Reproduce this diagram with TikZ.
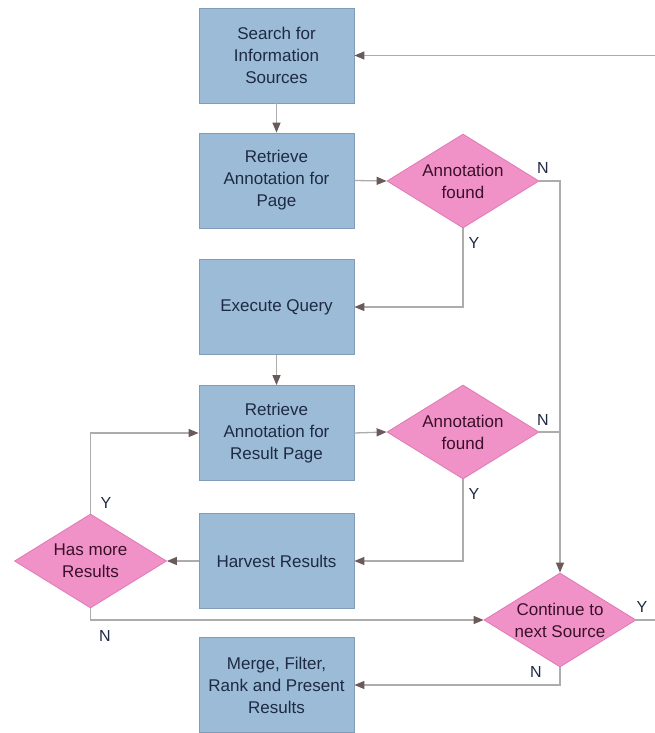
\documentclass[tikz,border=0pt]{standalone}
\usepackage{fontspec}
\setmainfont{Liberation Sans}
\usetikzlibrary{shapes.geometric,arrows.meta}
\definecolor{boxfill}{RGB}{156,187,214}
\definecolor{boxline}{RGB}{128,156,184}
\definecolor{boxtext}{RGB}{30,42,68}
\definecolor{diafill}{RGB}{240,146,200}
\definecolor{dialine}{RGB}{226,120,180}
\definecolor{diatext}{RGB}{58,16,40}
\definecolor{linec}{RGB}{172,172,172}
\definecolor{arrowc}{RGB}{106,90,90}
\tikzset{
  procbox/.style={draw=boxline,line width=0.8pt,fill=boxfill,minimum width=155pt,minimum height=95pt,
    align=center,text=boxtext,font=\fontsize{17}{22}\selectfont,inner sep=0pt},
  decis/.style={diamond,aspect=1.6,draw=dialine,line width=0.8pt,fill=diafill,minimum width=152pt,minimum height=94pt,
    align=center,text=diatext,font=\fontsize{17}{22}\selectfont,inner sep=0pt},
  conn/.style={draw=linec,line width=1.3pt,-{Triangle[length=10pt,width=8pt,color=arrowc]}},
  plainline/.style={draw=linec,line width=1.3pt},
  yn/.style={text=boxtext,font=\fontsize{16}{18}\selectfont,inner sep=0pt}
}
\begin{document}
\begin{tikzpicture}[x=1pt,y=-1pt]
\useasboundingbox[fill=white] (0,0) rectangle (655,733);
\node[procbox] (b1) at (276.5,55.5) {Search for\\Information\\Sources};
\node[procbox] (b2) at (276.5,180.5) {Retrieve\\Annotation for\\Page};
\node[decis] (d1) at (463,181) {Annotation\\found};
\node[procbox] (b3) at (276.5,307) {Execute Query};
\node[procbox] (b4) at (276.5,433) {Retrieve\\Annotation for\\Result Page};
\node[decis] (d2) at (463,432) {Annotation\\found};
\node[procbox] (b5) at (276.5,561) {Harvest Results};
\node[decis] (d3) at (90.5,561) {Has more\\Results};
\node[decis] (d4) at (560,620) {Continue to\\next Source};
\node[procbox] (b6) at (276.5,685) {Merge, Filter,\\Rank and Present\\Results};
\coordinate (rt) at (662,620);

\draw[conn] (b1) -- (b2);
\draw[conn] (b2.east) -- (d1.west);
\draw[conn] (d1.east) -| (d4.north);
\draw[conn] (d1.south) |- (b3.east);
\draw[conn] (b3) -- (b4);
\draw[conn] (b4.east) -- (d2.west);
\draw[plainline] (d2.east) -- (d2.east -| d4.north);
\draw[conn] (d2.south) |- (b5.east);
\draw[conn] (b5) -- (d3);
\draw[conn] (d3.north) |- (b4.west);
\draw[conn] (d3.south) |- (d4.west);
\draw[conn] (d4.east) -- (rt) |- (b1.east);
\draw[conn] (d4.south) |- (b6.east);

\node[yn] (n1) at (543,168) {N};
\node[yn] (y1) at (474,243) {Y};
\node[yn] (n2) at (543,420) {N};
\node[yn] (y2) at (474,494) {Y};
\node[yn] (y3) at (106,503) {Y};
\node[yn] (n3) at (105,636) {N};
\node[yn] (y4) at (642,607) {Y};
\node[yn] (n4) at (536,672) {N};
\end{tikzpicture}
\end{document}
